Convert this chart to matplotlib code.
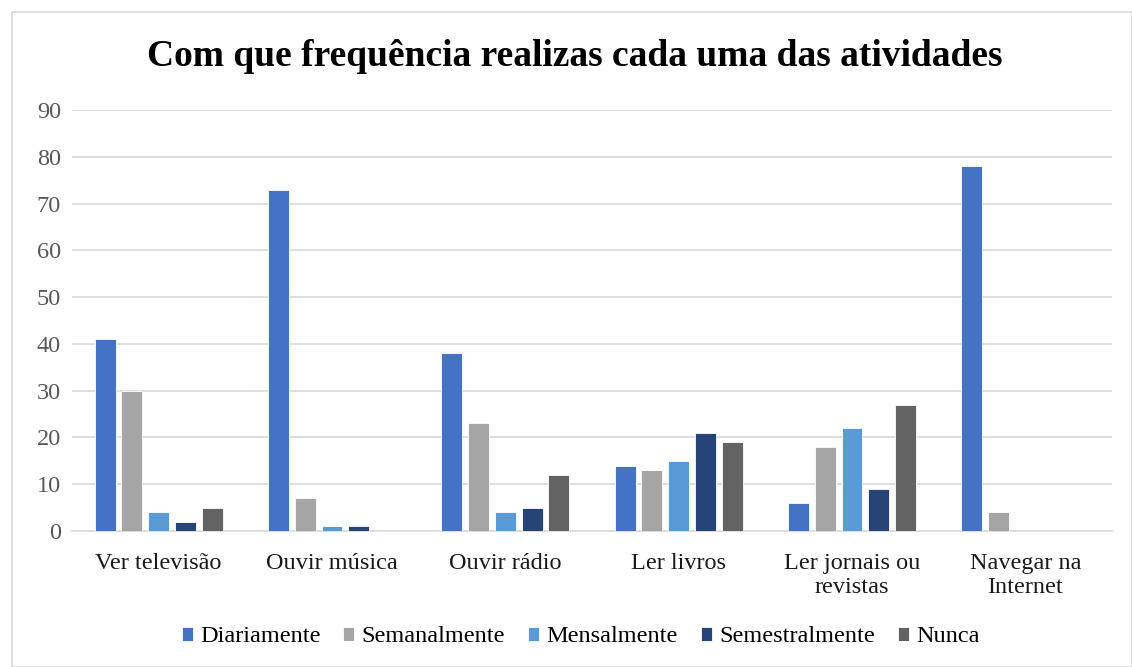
import numpy as np
import matplotlib.pyplot as plt
from matplotlib.patches import Rectangle

plt.rcParams['font.family'] = ['Liberation Serif', 'DejaVu Serif']

categories = ['Ver televisão', 'Ouvir música', 'Ouvir rádio', 'Ler livros',
              'Ler jornais ou\nrevistas', 'Navegar na\nInternet']
series = ['Diariamente', 'Semanalmente', 'Mensalmente', 'Semestralmente', 'Nunca']
diariamente = [41, 73, 38, 14, 6, 78]
semanalmente = [30, 7, 23, 13, 18, 4]
mensalmente = [4, 1, 4, 15, 22, 0]
semestralmente = [2, 1, 5, 21, 9, 0]
nunca = [5, 0, 12, 19, 27, 0]
values = [diariamente, semanalmente, mensalmente, semestralmente, nunca]
colors = ['#4472C4', '#A5A5A5', '#5B9BD5', '#264478', '#636363']

fig = plt.figure(figsize=(11.32, 6.67), dpi=100)
ax = fig.add_axes([72/1132, 1-531/667, 1040/1132, 421/667])

# chart border
fig.patches.append(Rectangle((12/1132, 0), 1 - 12/1132, 1 - 12/667, transform=fig.transFigure,
                             fill=False, edgecolor='#d9d9d9', linewidth=1.2))

x = np.arange(len(categories))
pitch = 0.154
width = 0.121
for i, (name, vals, c) in enumerate(zip(series, values, colors)):
    ax.bar(x + (i - 2) * pitch, vals, width, color=c, label=name,
           edgecolor='white', linewidth=0.6, zorder=3)

ax.set_xlim(-0.5, len(categories) - 0.5)
ax.set_ylim(0, 90)
ax.set_yticks(range(0, 91, 10))
ax.grid(axis='y', color='#d9d9d9', linewidth=1.2, zorder=0)
ax.set_axisbelow(True)
for s in ['top', 'right', 'left']:
    ax.spines[s].set_visible(False)
ax.spines['bottom'].set_color('#d9d9d9')
ax.spines['bottom'].set_linewidth(1.2)
ax.set_xticks(x)
ax.set_xticklabels(categories, fontsize=17.5, linespacing=1.2)
ax.tick_params(axis='both', length=0, labelsize=17.5)
ax.tick_params(axis='x', pad=16, labelcolor='#1a1a1a')
ax.tick_params(axis='y', pad=8, labelcolor='#595959')

fig.text(0.508, 1 - 57/667, 'Com que frequência realizas cada uma das atividades',
         ha='center', va='center', fontsize=27, fontweight='bold')

fig.legend(loc='center', bbox_to_anchor=(0.513, 1 - 637/667), ncol=5, frameon=False,
           fontsize=17.5, handlelength=0.45, handleheight=0.55, handletextpad=0.3,
           columnspacing=0.95)

fig.savefig('out.png', dpi=100)
